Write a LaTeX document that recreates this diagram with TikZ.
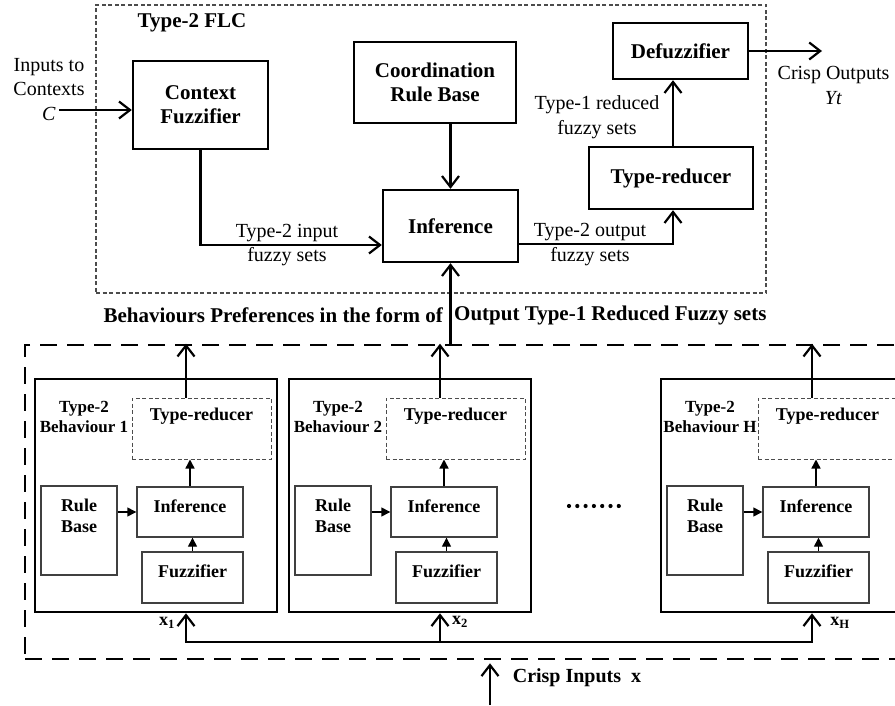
\documentclass[tikz,border=0pt]{standalone}
\usepackage{fontspec}
\setmainfont{Liberation Serif}
\usetikzlibrary{arrows.meta}
\begin{document}
\begin{tikzpicture}[x=1pt,y=-1pt,
  mainbox/.style={draw, line width=2.4pt, inner sep=0pt, align=center,
    font=\fontsize{21}{24}\selectfont\bfseries},
  flcframe/.style={draw=black!70, line width=1.1pt, dash pattern=on 4pt off 2.5pt, inner sep=0pt},
  bhvframe/.style={draw, line width=2.6pt, dash pattern=on 17pt off 10pt, inner sep=0pt},
  bhvbox/.style={draw, line width=2.6pt, inner sep=0pt},
  subbox/.style={draw=black!75, line width=1.4pt, inner sep=0pt},
  trbox/.style={draw=black!70, line width=1pt, dash pattern=on 4pt off 2.5pt, inner sep=0pt},
  subtext/.style={font=\fontsize{18}{21}\selectfont\bfseries, align=center, inner sep=0pt},
  bhvtitle/.style={font=\fontsize{17}{20}\selectfont\bfseries, align=center, inner sep=0pt},
  lbl/.style={align=center, font=\fontsize{20}{24.5}\selectfont, inner sep=0pt},
  boldlbl/.style={font=\fontsize{21}{24}\selectfont\bfseries, inner sep=0pt},
  xlbl/.style={font=\fontsize{18}{20}\selectfont\bfseries, inner sep=0pt},
  arr/.style={line width=2.2pt, -{Straight Barb[length=11pt,width=17pt]}},
  smallarr/.style={line width=1.4pt, -{Triangle[length=9pt,width=9pt]}},
  dotmark/.style={circle, fill, inner sep=0pt, minimum size=4.2pt}
]
\clip (0,0) rectangle (895,706);

% ---------- Type-2 FLC ----------
\node[flcframe, minimum width=670pt, minimum height=288pt] (flc) at (431,149) {};
\node[boldlbl] (flctitle) at (192,23) {Type-2 FLC};

\node[mainbox, minimum width=135pt, minimum height=88pt] (ctxfuzz) at (200.5,105) {Context\\Fuzzifier};
\node[mainbox, minimum width=162pt, minimum height=81pt] (coord) at (435,82.5) {Coordination\\Rule Base};
\node[mainbox, minimum width=135pt, minimum height=72pt] (infer) at (450.5,226) {Inference};
\node[mainbox, minimum width=164pt, minimum height=62pt] (tred) at (671,178) {Type-reducer};
\node[mainbox, minimum width=135pt, minimum height=56pt] (defuzz) at (680.5,51) {Defuzzifier};

\node[lbl] (ctxin) at (49,89.5) {Inputs to\\Contexts\\\textit{C}};
\coordinate (cin) at (59,110);
\draw[arr] (cin) -- (cin -| ctxfuzz.west);

\draw[arr] (infer.north |- coord.south) -- (infer.north);
\draw[arr] (ctxfuzz.south) |- ([yshift=-19pt]infer.west);
\node[lbl] (t2in) at (287,245) {Type-2 input\\fuzzy sets};

\draw[arr] ([yshift=-18pt]infer.east) -| ([xshift=2pt]tred.south);
\node[lbl] (t2out) at (590,244.5) {Type-2 output\\fuzzy sets};

\draw[arr] ([xshift=2pt]tred.north) -- ([xshift=2pt]tred.north |- defuzz.south);
\node[lbl] (t1red) at (597,117) {Type-1 reduced\\fuzzy sets};

\coordinate (cout) at (822,52);
\draw[arr] (defuzz.east) -- (defuzz.east -| cout);
\node[lbl] (crispout) at (833.5,85.5) {Crisp Outputs\\\textit{Yt}};

% ---------- behaviour preferences ----------
\node[boldlbl, anchor=east] (pref1) at (443,315) {Behaviours Preferences in the form of};
\node[boldlbl, anchor=west] (pref2) at (454,315) {Output Type-1 Reduced Fuzzy sets};

% ---------- behaviours ----------
\node[bhvframe, minimum width=885pt, minimum height=314pt] (bhv) at (467.5,502) {};
\draw[arr] (infer.south |- bhv.north) -- (infer.south);

\foreach \L/\k in {35/1, 289/2, 661/H} {
  \node[bhvbox, minimum width=242pt, minimum height=233pt] (b\k) at (\L+121,495.5) {};
  \node[bhvtitle] (title\k) at (\L+49,417) {Type-2\\Behaviour \k};
  \node[trbox, minimum width=139pt, minimum height=61pt,
    label={[subtext, anchor=center, yshift=-19pt]north:Type-reducer}] (tr\k) at (\L+166.5,428.5) {};
  \node[subbox, minimum width=76pt, minimum height=89pt,
    label={[subtext, anchor=center, yshift=-30.5pt]north:Rule\\Base}] (rb\k) at (\L+44,530.5) {};
  \node[subbox, minimum width=106pt, minimum height=50pt,
    label={[subtext, anchor=center, yshift=-20pt]north:Inference}] (inf\k) at (\L+155,512) {};
  \node[subbox, minimum width=101pt, minimum height=51pt,
    label={[subtext, anchor=center, yshift=-20pt]north:Fuzzifier}] (fz\k) at (\L+157.5,577.5) {};
  \draw[smallarr] (rb\k.east |- inf\k.west) -- (inf\k.west);
  \draw[smallarr] (fz\k.north) -- (fz\k.north |- inf\k.south);
  \draw[smallarr] (inf\k.north) -- (inf\k.north |- tr\k.south);
  \draw[arr] ([xshift=-15.5pt]tr\k.north) -- ([xshift=-15.5pt]tr\k.north |- bhv.north);
  \coordinate (bus\k) at (\L+151,642);
  \draw[arr] (bus\k) -- (bus\k |- b\k.south);
}
\draw[line width=2.2pt] ([xshift=-1.1pt]bus1) -- ([xshift=1.1pt]busH);

\node[xlbl] (x1) at (167,623) {x\textsubscript{1}};
\node[xlbl] (x2) at (460,622) {x\textsubscript{2}};
\node[xlbl] (xH) at (840,623) {x\textsubscript{H}};

% the row of dots standing for the behaviours between 2 and H
\foreach \d in {0,...,6} {
  \node[dotmark] (dot\d) at (569+8.3*\d,506) {};
}

\coordinate (crispin) at (490,705);
\draw[arr, shorten >=3pt] (crispin) -- (crispin |- bhv.south);
\node[boldlbl, font=\fontsize{20}{24}\selectfont\bfseries] (crispinlbl) at (577,678) {Crisp Inputs\ \ x};
\end{tikzpicture}
\end{document}
